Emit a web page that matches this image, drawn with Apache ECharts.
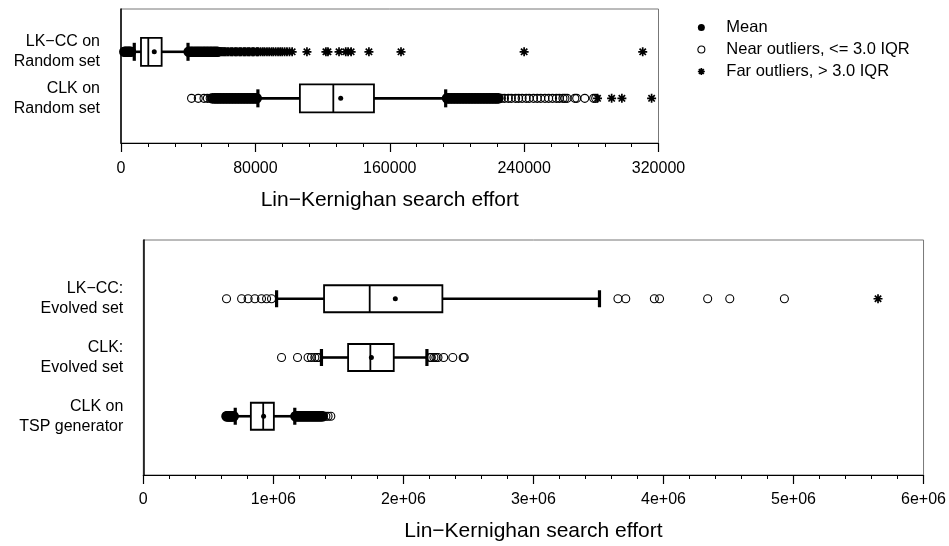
<!DOCTYPE html>
<html>
<head>
<meta charset="utf-8">
<script src="https://cdn.jsdelivr.net/npm/echarts@6/dist/echarts.min.js"></script>
<style>
  html, body { margin: 0; padding: 0; background: #fff; }
  #chart { width: 949px; height: 546px; }
</style>
</head>
<body>
<div id="chart"></div>
<script>
// ---- Random instance sets (top panel) ----
const randomRows = ['LK\u2212CC on\nRandom set', 'CLK on\nRandom set'];
const randomTicks = [0, 80000, 160000, 240000, 320000];
// [lower whisker, Q1, median, Q3, upper whisker]
const randomBoxes = [
  [7900, 11900, 16250, 24200, 39900],
  [81500, 106500, 126400, 150600, 193300]
];
const randomMeans = [19800, 130800];
// near outliers: tightly packed runs, then isolated points
const lkccRandomNearDense = [2000, 2700, 3300, 4000, 4600, 5200, 5900,
  40300, 41100, 42000, 42800, 43700, 44600, 45400, 46300, 47100, 48000, 48900, 49700,
  50600, 51400, 52300, 53200, 54000, 54900, 55800, 56600, 57500];
const lkccRandomNear = [58300, 59200, 60100, 60900];
const lkccRandomFar = [61600, 62400, 63300, 64100, 65200, 65900, 66600, 67800, 68400, 69100, 70300,
  71000, 71700, 72900, 73500, 74200, 75300, 76000, 76700, 78000, 78600, 79200, 80600, 81200,
  81800, 83100, 84400, 85500, 86900, 88200, 89600, 90700, 92100, 93500, 94800, 96000,
  97400, 98800, 100300, 101900,
  110700, 122000, 123200, 129800, 133800, 135200, 137000, 147600, 166700, 240000, 310600];
const clkRandomNearDense = [54400, 55600, 56500, 57400, 58300,
  59200, 60100, 61000, 61900, 62800, 63700, 64600, 65500, 66400, 67300, 68200, 69100,
  70000, 70900, 71800, 72700, 73600, 74500, 75400, 76300, 77200, 78100, 79000, 79900, 80800,
  194100, 195000, 195900, 196800, 197700, 198600, 199500, 200400, 201300, 202200, 203100,
  204000, 204900, 205800, 206700, 207600, 208500, 209400, 210300, 211200, 212100, 213000,
  213900, 214800, 215700, 216600, 217500, 218400, 219300, 220200, 221100, 222000, 222900,
  223800, 224700];
const clkRandomNear = [42000, 46000, 49400, 51400, 53100,
  226500, 228300, 230600, 232400, 234900, 236700, 238800, 241200, 243000,
  245600, 247800, 249900, 252400, 254600, 256900, 259200, 261000, 263100, 264300, 265600,
  270200, 271300, 276100, 281400, 282600];
const clkRandomFar = [283700, 292100, 298200, 315900];

// ---- Evolved sets and generator (bottom panel) ----
const evolvedRows = ['LK\u2212CC:\nEvolved set', 'CLK:\nEvolved set', 'CLK on\nTSP generator'];
const evolvedTicks = [0, 1e6, 2e6, 3e6, 4e6, 5e6, 6e6];
const evolvedBoxes = [
  [1025000, 1390000, 1741000, 2300000, 3508000],
  [1370000, 1575000, 1746000, 1926000, 2181000],
  [707000, 827000, 922000, 1004000, 1165000]
];
const evolvedMeans = [1938000, 1754000, 925000];
const lkccEvolvedNearDense = [];
const lkccEvolvedNear = [640000, 756000, 806000, 858000, 909000, 948000, 986000,
  3650000, 3710000, 3930000, 3970000, 4340000, 4510000, 4930000];
const lkccEvolvedFar = [5650000];
const clkEvolvedNearDense = [];
const clkEvolvedNear = [1063000, 1186000, 1267000, 1293000, 1319000, 1335000, 1350000,
  2205000, 2215000, 2235000, 2250000, 2266000, 2310000, 2380000, 2460000, 2468000];
const clkEvolvedFar = [];
const tspNearDense = [640000, 645000, 651000, 656000, 661000, 667000, 672000, 677000, 683000, 689000, 695000,
  1170000, 1178000, 1186000, 1194000, 1202000, 1210000, 1218000, 1226000, 1234000, 1242000,
  1250000, 1258000, 1266000, 1274000, 1282000, 1290000, 1298000, 1306000, 1314000, 1322000,
  1330000, 1338000, 1346000, 1354000, 1362000, 1371000, 1380000];
const tspNear = [1404000, 1421000, 1442000];
const tspFar = [];

const legendNames = ['Mean', 'Near outliers, <= 3.0 IQR', 'Far outliers, > 3.0 IQR'];

// ---- drawing helpers ----
const FONT = 'Liberation Sans, Arial, Helvetica, sans-serif';
const STAR = 'path://M10 0L10 20M0 10L20 10M2.93 2.93L17.07 17.07M17.07 2.93L2.93 17.07';

function boxRenderer(boxH, capH) {
  return function (params, api) {
    const row = api.value(0);
    const lo = api.coord([api.value(1), row]);
    const q1 = api.coord([api.value(2), row]);
    const med = api.coord([api.value(3), row]);
    const q3 = api.coord([api.value(4), row]);
    const hi = api.coord([api.value(5), row]);
    const y = lo[1];
    const whisk = { stroke: '#000', lineWidth: 2.6 };
    return {
      type: 'group',
      children: [
        { type: 'line', shape: { x1: lo[0], y1: y, x2: q1[0], y2: y }, style: whisk },
        { type: 'line', shape: { x1: q3[0], y1: y, x2: hi[0], y2: y }, style: whisk },
        { type: 'rect', shape: { x: lo[0] - 1.6, y: y - capH / 2, width: 3.2, height: capH }, style: { fill: '#000' } },
        { type: 'rect', shape: { x: hi[0] - 1.6, y: y - capH / 2, width: 3.2, height: capH }, style: { fill: '#000' } },
        { type: 'rect', shape: { x: q1[0], y: y - boxH / 2, width: q3[0] - q1[0], height: boxH },
          style: { fill: '#fff', stroke: '#000', lineWidth: 1.8 } },
        { type: 'line', shape: { x1: med[0], y1: y - boxH / 2, x2: med[0], y2: y + boxH / 2 },
          style: { stroke: '#000', lineWidth: 1.8 } }
      ]
    };
  };
}

function rowPoints(values, row) { return values.map(v => [v, row]); }
function collect(lists) {
  const out = [];
  lists.forEach((vals, i) => out.push(...rowPoints(vals, i + 1)));
  return out;
}

function panelSeries(idx, boxes, means, nearDense, near, far, boxH, capH) {
  const base = { type: 'scatter', xAxisIndex: idx, yAxisIndex: idx, silent: true };
  return [
    {
      type: 'custom', xAxisIndex: idx, yAxisIndex: idx, z: 2, silent: true,
      renderItem: boxRenderer(boxH, capH),
      encode: { x: [1, 2, 3, 4, 5], y: 0 },
      data: boxes.map((b, i) => [i + 1].concat(b))
    },
    Object.assign({}, base, {
      name: legendNames[1], z: 3, symbol: 'circle', symbolSize: 8,
      itemStyle: { color: 'rgba(0,0,0,0)', borderColor: '#000', borderWidth: 2.6, opacity: 1 },
      data: collect(nearDense)
    }),
    Object.assign({}, base, {
      name: legendNames[1], z: 3, symbol: 'circle', symbolSize: 8,
      itemStyle: { color: 'rgba(0,0,0,0)', borderColor: '#000', borderWidth: 1.1, opacity: 1 },
      data: collect(near)
    }),
    Object.assign({}, base, {
      name: legendNames[2], z: 3, symbol: STAR, symbolSize: 9,
      itemStyle: { color: 'rgba(0,0,0,0)', borderColor: '#000', borderWidth: 1.7, opacity: 1 },
      data: collect(far)
    }),
    Object.assign({}, base, {
      name: legendNames[0], z: 4, symbol: 'circle', symbolSize: 5,
      itemStyle: { color: '#000', opacity: 1 },
      data: means.map((m, i) => [m, i + 1])
    })
  ];
}

function xAxisCfg(idx, ticks, fmt, gap, margin) {
  return {
    type: 'value', gridIndex: idx,
    min: ticks[0], max: ticks[ticks.length - 1], interval: ticks[1] - ticks[0],
    name: 'Lin\u2212Kernighan search effort', nameLocation: 'middle', nameGap: gap,
    nameTextStyle: { fontFamily: FONT, fontSize: 21, color: '#000' },
    axisLine: { show: true, onZero: false, lineStyle: { color: '#000', width: 1.2 } },
    axisTick: { show: true, length: 9, lineStyle: { color: '#000', width: 1.2 } },
    minorTick: { show: true, splitNumber: 5, length: 4, lineStyle: { color: '#000', width: 1 } },
    splitLine: { show: false },
    axisLabel: { fontFamily: FONT, fontSize: 16, color: '#000', margin: margin, formatter: fmt }
  };
}

function yAxisCfg(idx, rows, min, max, margin) {
  return {
    type: 'value', gridIndex: idx, inverse: true, min: min, max: max,
    axisLine: { show: true, lineStyle: { color: '#000', width: 1.5 } },
    axisTick: { show: false }, splitLine: { show: false },
    axisLabel: {
      customValues: rows.map((r, i) => i + 1),
      fontFamily: FONT, fontSize: 16, color: '#000', lineHeight: 20, margin: margin, align: 'right',
      formatter: v => rows[Math.round(v) - 1] || ''
    }
  };
}

const chart = echarts.init(document.getElementById('chart'), null, { renderer: 'canvas' });
chart.setOption({
  animation: false,
  backgroundColor: '#fff',
  textStyle: { fontFamily: FONT },
  grid: [
    { left: 121, top: 9, width: 537.5, height: 134, show: true, borderColor: '#777', borderWidth: 1, backgroundColor: 'transparent' },
    { left: 143.3, top: 240, width: 781.2, height: 235, show: true, borderColor: '#777', borderWidth: 1, backgroundColor: 'transparent' }
  ],
  xAxis: [
    xAxisCfg(0, randomTicks, v => String(v), 47, 18),
    xAxisCfg(1, evolvedTicks, v => v === 0 ? '0' : (v / 1e6) + 'e+06', 46, 17)
  ],
  yAxis: [
    yAxisCfg(0, randomRows, 0.08, 2.96, 21),
    yAxisCfg(1, evolvedRows, 0, 4, 20)
  ],
  legend: {
    orient: 'vertical', left: 692, top: 14,
    itemWidth: 40, itemHeight: 7, itemGap: 5, selectedMode: false,
    textStyle: { fontFamily: FONT, fontSize: 16.5, color: '#000', lineHeight: 16 },
    data: [
      { name: legendNames[0], itemStyle: { color: '#000', borderWidth: 0 } },
      { name: legendNames[1], itemStyle: { color: 'rgba(0,0,0,0)', borderColor: '#000', borderWidth: 1.1 } },
      { name: legendNames[2], itemStyle: { color: 'rgba(0,0,0,0)', borderColor: '#000', borderWidth: 1.7 } }
    ]
  },
  series: [].concat(
    panelSeries(0, randomBoxes, randomMeans,
      [lkccRandomNearDense, clkRandomNearDense], [lkccRandomNear, clkRandomNear], [lkccRandomFar, clkRandomFar], 28, 18),
    panelSeries(1, evolvedBoxes, evolvedMeans,
      [lkccEvolvedNearDense, clkEvolvedNearDense, tspNearDense], [lkccEvolvedNear, clkEvolvedNear, tspNear],
      [lkccEvolvedFar, clkEvolvedFar, tspFar], 27, 17)
  )
});
</script>
</body>
</html>
